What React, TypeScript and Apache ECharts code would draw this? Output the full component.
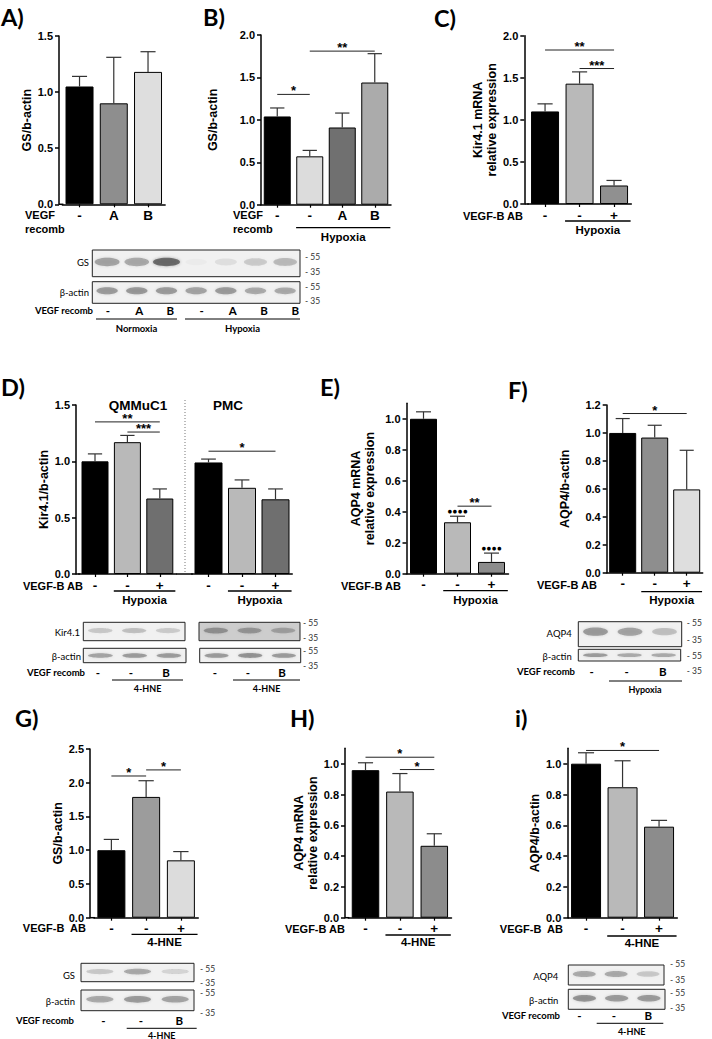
import { useEffect, useRef } from 'react';
import * as echarts from 'echarts';

// ---------------- DATA ----------------
const catsA = ['-', 'A', 'B'];
const meanA = [1.05, 0.9, 1.18];
const errA = [1.14, 1.31, 1.36];

const catsB = ['-', '-', 'A', 'B'];
const meanB = [1.04, 0.57, 0.91, 1.44];
const errB = [1.14, 0.64, 1.08, 1.78];
const sigB: any[] = [[0, 1, 1.3, '*'], [1, 3, 1.81, '**']];

const catsC = ['-', '-', '+'];
const meanC = [1.1, 1.43, 0.22];
const errC = [1.19, 1.57, 0.28];
const sigC: any[] = [[0, 2, 1.83, '**'], [1, 2, 1.61, '***']];

const catsD = ['-', '-', '+'];
const meanDQ = [1.0, 1.17, 0.67];
const errDQ = [1.066, 1.23, 0.755];
const sigDQ: any[] = [[0, 2, 1.35, '**'], [1, 2, 1.26, '***']];
const meanDP = [0.99, 0.765, 0.663];
const errDP = [1.02, 0.835, 0.755];
const sigDP: any[] = [[0, 2, 1.09, '*']];

const catsE = ['-', '-', '+'];
const meanE = [1.0, 0.332, 0.076];
const errE = [1.045, 0.371, 0.133];
const marksE = ['', '●●●●', '●●●●'];
const sigE: any[] = [[1, 2, 0.436, '**']];

const catsF = ['-', '-', '+'];
const meanF = [1.0, 0.967, 0.596];
const errF = [1.103, 1.055, 0.876];
const sigF: any[] = [[0, 2, 1.139, '*']];

const catsG = ['-', '-', '+'];
const meanG = [1.0, 1.79, 0.85];
const errG = [1.16, 2.03, 0.98];
const sigG: any[] = [[0, 1, 2.1, '*'], [1, 2, 2.19, '*']];

const catsH = ['-', '-', '+'];
const meanH = [0.958, 0.819, 0.467];
const errH = [1.006, 0.936, 0.545];
const sigH: any[] = [[0, 2, 1.042, '*'], [1, 2, 0.962, '*']];

const catsI = ['-', '-', '+'];
const meanI = [1.0, 0.847, 0.591];
const errI = [1.071, 1.019, 0.632];
const sigI: any[] = [[0, 2, 1.086, '*']];

// western blot band intensities (0..1) per lane
const bandGS_AB = [0.55, 0.5, 0.9, 0.04, 0.12, 0.28, 0.38];
const bandActin_AB = [0.6, 0.62, 0.6, 0.55, 0.6, 0.5, 0.5];
const bandKir_Q = [0.3, 0.35, 0.28];
const bandKir_P = [0.55, 0.5, 0.4];
const bandActin_DQ = [0.55, 0.6, 0.6];
const bandActin_DP = [0.6, 0.65, 0.6];
const bandAQP4_F = [0.6, 0.55, 0.35];
const bandActin_F = [0.6, 0.5, 0.5];
const bandGS_G = [0.3, 0.5, 0.22];
const bandActin_G = [0.5, 0.6, 0.55];
const bandAQP4_I = [0.5, 0.5, 0.3];
const bandActin_I = [0.65, 0.6, 0.6];
const lanesAB = ['-', 'A', 'B', '-', 'A', 'B', 'B'];
const lanes3 = ['-', '-', 'B'];

// ---------------- LAYOUT ----------------
const FONT = '"Liberation Sans", Arial, sans-serif';
const BFONT = 'Lato, "Open Sans", sans-serif';

const specs: any[] = [
  { cats: catsA, mean: meanA, err: errA, sig: [], max: 1.5, interval: 0.5, yName: 'GS/b-actin',
    X: 59, left: 62.4, w: 34.25, top: 36, h: 168.3, barW: 28, nameGap: 23, stub: 3.4,
    colors: ['#000000', '#8e8e8e', '#dedede'] },
  { cats: catsB, mean: meanB, err: errB, sig: sigB, max: 2.0, interval: 0.5, yName: 'GS/b-actin',
    X: 261, left: 261, w: 32.5, top: 35, h: 169.7, barW: 27, nameGap: 41, stub: 0,
    colors: ['#000000', '#dcdcdc', '#707070', '#ababab'], group: { from: 1, to: 3, text: 'Hypoxia' }, gdy: 23, gty: 32 },
  { cats: catsC, mean: meanC, err: errC, sig: sigC, max: 2.0, interval: 0.5, yName: 'Kir4.1 mRNA\nrelative expression',
    X: 524.3, left: 527.8, w: 34.5, top: 35.7, h: 168.3, barW: 28, nameGap: 22, stub: 3.5,
    colors: ['#000000', '#b9b9b9', '#909090'], group: { from: 1, to: 2, text: 'Hypoxia' }, gdy: 17, gty: 26 },
  { cats: catsD, mean: meanDQ, err: errDQ, sig: sigDQ, max: 1.5, interval: 0.5, yName: 'Kir4.1/b-actin',
    X: 76, left: 78.8, w: 32.4, top: 405, h: 169, barW: 27, nameGap: 24, stub: 2.8,
    colors: ['#000000', '#b9b9b9', '#6f6f6f'], group: { from: 1, to: 2, text: 'Hypoxia' }, gdy: 17, gty: 26 },
  { cats: catsD, mean: meanDP, err: errDP, sig: sigDP, max: 1.5, interval: 0.5, yName: '', hideY: true,
    X: 191.75, left: 191.75, w: 33.5, top: 405, h: 169, barW: 28, nameGap: 24, stub: 15.75,
    colors: ['#000000', '#b9b9b9', '#6f6f6f'], group: { from: 1, to: 2, text: 'Hypoxia' }, gdy: 17, gty: 26 },
  { cats: catsE, mean: meanE, err: errE, marks: marksE, sig: sigE, max: 1.1, interval: 0.2, yName: 'AQP4 mRNA\nrelative expression',
    X: 406.5, left: 406.5, w: 34, top: 403.3, h: 170.4, barW: 27, nameGap: 30, stub: 0,
    colors: ['#000000', '#b9b9b9', '#8c8c8c'], group: { from: 1, to: 2, text: 'Hypoxia' }, gdy: 17, gty: 26 },
  { cats: catsF, mean: meanF, err: errF, sig: sigF, max: 1.2, interval: 0.2, yName: 'AQP4/b-actin',
    X: 606.7, left: 606.7, w: 32, top: 405, h: 167.7, barW: 27, nameGap: 35, stub: 0,
    colors: ['#000000', '#8e8e8e', '#dedede'], group: { from: 1, to: 2, text: 'Hypoxia' }, gdy: 19, gty: 27 },
  { cats: catsG, mean: meanG, err: errG, sig: sigG, max: 2.5, interval: 0.5, yName: 'GS/b-actin',
    X: 90, left: 94, w: 34.75, top: 749, h: 168.7, barW: 28, nameGap: 16, stub: 4,
    colors: ['#000000', '#9c9c9c', '#dcdcdc'], group: { from: 1, to: 2, text: '4-HNE' }, gdy: 16.6, gty: 24 },
  { cats: catsH, mean: meanH, err: errH, sig: sigH, max: 1.1, interval: 0.2, yName: 'AQP4 mRNA\nrelative expression',
    X: 345, left: 348.3, w: 34.4, top: 748.3, h: 169.4, barW: 27.5, nameGap: 23, stub: 3.3,
    colors: ['#000000', '#b9b9b9', '#8c8c8c'], group: { from: 1, to: 2, text: '4-HNE' }, gdy: 17.3, gty: 24.5 },
  { cats: catsI, mean: meanI, err: errI, sig: sigI, max: 1.1, interval: 0.2, yName: 'AQP4/b-actin',
    X: 567.3, left: 567.8, w: 36.5, top: 748.3, h: 169.4, barW: 30, nameGap: 24, stub: 0.5,
    colors: ['#000000', '#b9b9b9', '#8c8c8c'], group: { from: 1, to: 2, text: '4-HNE' }, gdy: 18.3, gty: 25.6 },
];

// ---------------- HELPERS ----------------
function txt(text: string, x: number, y: number, size: number, o: any = {}) {
  return {
    type: 'text', x, y, silent: true,
    style: {
      text, font: `${o.weight ?? 'bold'} ${size}px ${o.family ?? FONT}`, fill: o.fill ?? '#000',
      textAlign: o.align ?? 'left', textVerticalAlign: 'middle',
    },
  };
}
function ln(x1: number, y1: number, x2: number, y2: number, w = 1, o: any = {}) {
  return {
    type: 'line', silent: true, shape: { x1, y1, x2, y2 },
    style: { stroke: o.color ?? '#000', lineWidth: w, lineDash: o.dash },
  };
}
function blot(x: number, y: number, w: number, h: number, bands: number[], o: any = {}) {
  const n = bands.length;
  const lw = w / n;
  const els: any[] = [
    { type: 'rect', silent: true, shape: { x, y, width: w, height: h }, style: { fill: o.bg ?? '#f1f1f1', stroke: '#222', lineWidth: 1 } },
  ];
  bands.forEach((b, i) => {
    if (b <= 0) return;
    const cx = x + lw * (i + 0.5);
    const a = b * 0.62;
    els.push({
      type: 'ellipse', silent: true,
      shape: { cx, cy: y + h * (o.pos ?? 0.5), rx: lw * 0.36 * (1 + (o.grow ?? 0) * b), ry: Math.min(h * 0.12 * (1 + b * 0.6), 4.2) },
      style: { fill: `rgba(40,40,40,${a})`, shadowBlur: 3, shadowColor: `rgba(40,40,40,${a})` },
    });
  });
  return els;
}
function markers(x: number, ys: number[], labels: string[]) {
  return ys.map((y, i) => txt('- ' + labels[i], x, y, 8.5, { weight: 'normal', family: BFONT, fill: '#333' }));
}

// ---------------- OPTION ----------------
function buildOption() {
  const grid: any[] = [];
  const xAxis: any[] = [];
  const yAxis: any[] = [];
  const series: any[] = [];

  specs.forEach((s, gi) => {
    const tickVals: number[] = [];
    for (let v = 0; v <= s.max + 1e-9; v += s.interval) tickVals.push(Math.round(v * 100) / 100);
    grid.push({ left: s.left, top: s.top, width: s.w * s.cats.length, height: s.h, containLabel: false, outerBoundsMode: 'none' });
    xAxis.push({
      type: 'category', gridIndex: gi, data: s.cats,
      axisLine: { show: true, onZero: false, lineStyle: { color: '#000', width: 1.5 } },
      axisTick: { show: true, alignWithLabel: true, length: 3, lineStyle: { color: '#000', width: 1.2 } },
      axisLabel: { show: true, interval: 0, margin: 4, fontSize: 13.5, fontWeight: 'bold', color: '#000', fontFamily: FONT },
      splitLine: { show: false },
    });
    yAxis.push({
      type: 'value', gridIndex: gi, show: !s.hideY, min: 0, max: s.max, interval: s.interval,
      offset: s.left - s.X,
      axisLine: { show: true, lineStyle: { color: '#000', width: 1.5 } },
      axisTick: { show: true, length: 4, customValues: tickVals, lineStyle: { color: '#000', width: 1.5 } },
      axisLabel: {
        margin: 6, fontSize: 11, fontWeight: 'bold', color: '#000', fontFamily: FONT, customValues: tickVals,
        formatter: (v: number) => {
          const k = v / s.interval;
          return Math.abs(k - Math.round(k)) < 1e-6 ? v.toFixed(1) : '';
        },
      },
      splitLine: { show: false },
      name: s.yName, nameLocation: 'middle', nameGap: s.nameGap,
      nameTextStyle: { fontSize: 12.5, fontWeight: 'bold', color: '#000', fontFamily: FONT, lineHeight: 14 },
    });
    series.push({
      type: 'bar', xAxisIndex: gi, yAxisIndex: gi, barWidth: s.barW, silent: true, z: 2,
      itemStyle: { borderColor: '#000', borderWidth: 1 },
      data: s.mean.map((v: number, i: number) => ({ value: v, itemStyle: { color: s.colors[i] } })),
    });
    // error bars (upper SEM)
    series.push({
      type: 'custom', xAxisIndex: gi, yAxisIndex: gi, silent: true, z: 3,
      data: s.mean.map((v: number, i: number) => [i, v, s.err[i]]),
      renderItem: (p: any, api: any) => {
        const i = api.value(0);
        const top = api.coord([i, api.value(2)]);
        const base = api.coord([i, api.value(1)]);
        const hw = api.size([1, 0])[0] * 0.22;
        const ch: any[] = [
          { type: 'line', shape: { x1: top[0], y1: base[1], x2: top[0], y2: top[1] }, style: { stroke: '#333', lineWidth: 1.2 } },
          { type: 'line', shape: { x1: top[0] - hw, y1: top[1], x2: top[0] + hw, y2: top[1] }, style: { stroke: '#333', lineWidth: 1.2 } },
        ];
        const mk = s.marks ? s.marks[p.dataIndex] : '';
        if (mk) {
          ch.push({ type: 'text', x: top[0], y: top[1] - 0.5, style: { text: mk, font: `bold 8.5px ${FONT}`, fill: '#000', textAlign: 'center', textVerticalAlign: 'bottom' } });
        }
        return { type: 'group', children: ch };
      },
    });
    // significance brackets
    if (s.sig.length) {
      series.push({
        type: 'custom', xAxisIndex: gi, yAxisIndex: gi, silent: true, z: 4,
        data: s.sig.map((g: any[]) => [g[0], g[2], g[1]]),
        renderItem: (p: any, api: any) => {
          const a = api.coord([api.value(0), api.value(1)]);
          const b = api.coord([api.value(2), api.value(1)]);
          const label = s.sig[p.dataIndex][3];
          return {
            type: 'group', children: [
              { type: 'line', shape: { x1: a[0], y1: a[1], x2: b[0], y2: b[1] }, style: { stroke: '#222', lineWidth: 1 } },
              { type: 'text', x: (a[0] + b[0]) / 2, y: a[1] - 3.5, style: { text: label, font: `bold 13px ${FONT}`, fill: '#000', textAlign: 'center', textVerticalAlign: 'middle' } },
            ],
          };
        },
      });
    }
    // axis corner stub + group (Hypoxia / 4-HNE) underline
    series.push({
      type: 'custom', xAxisIndex: gi, yAxisIndex: gi, silent: true, z: 4,
      data: [[0, 0]],
      renderItem: (p: any, api: any) => {
        const a = api.coord([0, 0]);
        const band = api.size([1, 0])[0];
        const x0 = a[0] - band / 2;
        const ch: any[] = [];
        if (s.stub > 0) ch.push({ type: 'line', shape: { x1: x0 - s.stub, y1: a[1], x2: x0 + 1, y2: a[1] }, style: { stroke: '#000', lineWidth: 1.5 } });
        if (s.group) {
          const g1 = api.coord([s.group.from, 0]);
          const g2 = api.coord([s.group.to, 0]);
          const x1 = g1[0] - band * 0.42;
          const x2 = g2[0] + band * 0.48;
          ch.push({ type: 'line', shape: { x1, y1: a[1] + s.gdy, x2, y2: a[1] + s.gdy }, style: { stroke: '#000', lineWidth: 1.3 } });
          ch.push({ type: 'text', x: (x1 + x2) / 2, y: a[1] + s.gty, style: { text: s.group.text, font: `bold 11.5px ${FONT}`, fill: '#000', textAlign: 'center', textVerticalAlign: 'middle' } });
        }
        return { type: 'group', children: ch };
      },
    });
  });

  const g: any[] = [];
  // panel letters
  const letters: any[] = [['A)', 1, 17], ['B)', 203, 17], ['C)', 434, 18], ['D)', 1, 387], ['E)', 320, 387], ['F)', 508, 390], ['G)', 15, 718], ['H)', 290, 718], ['i)', 515, 718]];
  letters.forEach(([t, x, y]) => g.push(txt(t, x, y, 23.5, { family: BFONT })));

  // row labels
  g.push(txt('VEGF', 25, 215, 11), txt('recomb', 25, 229, 11));
  g.push(txt('VEGF', 233, 215, 11), txt('recomb', 233, 229, 11));
  g.push(txt('VEGF-B AB', 523, 216, 11, { align: 'right' }));
  g.push(txt('VEGF-B AB', 83, 585.5, 11, { align: 'right' }));
  g.push(txt('VEGF-B AB', 401, 586, 11, { align: 'right' }));
  g.push(txt('VEGF-B AB', 597, 585, 11, { align: 'right' }));
  g.push(txt('VEGF-B  AB', 86, 928, 11, { align: 'right' }));
  g.push(txt('VEGF-B AB', 345, 929, 11, { align: 'right' }));
  g.push(txt('VEGF-B  AB', 563, 929, 11, { align: 'right' }));

  // D titles and separator
  g.push(txt('QMMuC1', 138, 405, 13.5, { align: 'center' }));
  g.push(txt('PMC', 228, 405, 13.5, { align: 'center' }));
  g.push(ln(185, 400, 185, 574, 1, { color: '#777', dash: [1, 2] }));

  // ---- blot A/B ----
  g.push(...blot(92.3, 250, 207.7, 26.7, bandGS_AB, { pos: 0.45, grow: 0.3 }));
  g.push(...blot(92.3, 281.7, 207.7, 21.6, bandActin_AB, { pos: 0.42 }));
  g.push(txt('GS', 89, 262, 9.5, { weight: 'normal', family: BFONT, align: 'right' }));
  g.push(txt('β-actin', 89, 292, 9.5, { weight: 'normal', family: BFONT, align: 'right' }));
  g.push(...markers(305, [256.7, 271.7, 286.7, 301], ['55', '35', '55', '35']));
  g.push(txt('VEGF recomb', 93, 310, 9.5, { family: BFONT, align: 'right' }));
  lanesAB.forEach((l, i) => g.push(txt(l, 108 + i * 31.2, 310, 11.5, { family: BFONT, align: 'center' })));
  g.push(ln(96, 319, 177, 319, 1), ln(185, 319, 300, 319, 1));
  g.push(txt('Normoxia', 136.5, 328, 9.5, { family: BFONT, align: 'center' }));
  g.push(txt('Hypoxia', 242.5, 328, 9.5, { family: BFONT, align: 'center' }));

  // ---- blot D ----
  g.push(...blot(83.3, 622.3, 101.7, 18.4, bandKir_Q, { pos: 0.45 }));
  g.push(...blot(199, 622.3, 101, 18.4, bandKir_P, { pos: 0.45, bg: '#cdcdcd' }));
  g.push(...blot(83.3, 648.3, 102.7, 14.4, bandActin_DQ, { pos: 0.5 }));
  g.push(...blot(199.7, 648.3, 101, 14.4, bandActin_DP, { pos: 0.5 }));
  g.push(txt('Kir4.1', 80, 632.7, 9.5, { weight: 'normal', family: BFONT, align: 'right' }));
  g.push(txt('β-actin', 81, 656, 9.5, { weight: 'normal', family: BFONT, align: 'right' }));
  g.push(...markers(303, [623.3, 638.3, 651, 666], ['55', '35', '55', '35']));
  g.push(txt('VEGF recomb', 85, 672, 9.5, { family: BFONT, align: 'right' }));
  [98, 131, 166].forEach((x, i) => g.push(txt(lanes3[i], x, 672, 11.5, { family: BFONT, align: 'center' })));
  [215, 248, 282].forEach((x, i) => g.push(txt(lanes3[i], x, 672, 11.5, { family: BFONT, align: 'center' })));
  g.push(ln(112, 680, 183, 680, 1), ln(233, 680, 300, 680, 1));
  g.push(txt('4-HNE', 147.5, 688, 9, { family: BFONT, align: 'center' }));
  g.push(txt('4-HNE', 266.5, 688, 9, { family: BFONT, align: 'center' }));

  // ---- blot F ----
  g.push(...blot(578.3, 621.7, 103.4, 25, bandAQP4_F, { pos: 0.4 }));
  g.push(...blot(578.3, 649.3, 102.4, 11.7, bandActin_F, { pos: 0.5 }));
  g.push(txt('AQP4', 571.7, 633.3, 9.5, { weight: 'normal', family: BFONT, align: 'right' }));
  g.push(txt('β-actin', 571.7, 656, 9.5, { weight: 'normal', family: BFONT, align: 'right' }));
  g.push(...markers(686.7, [622.7, 640, 656, 671], ['55', '35', '55', '35']));
  g.push(txt('VEGF recomb', 575, 671, 9.5, { family: BFONT, align: 'right' }));
  [591.7, 626.7, 662.7].forEach((x, i) => g.push(txt(lanes3[i], x, 671, 11.5, { family: BFONT, align: 'center' })));
  g.push(ln(609, 681, 682, 681, 1));
  g.push(txt('Hypoxia', 645, 689, 9, { family: BFONT, align: 'center' }));

  // ---- blot G ----
  g.push(...blot(81, 963.3, 113, 18.4, bandGS_G, { pos: 0.45 }));
  g.push(...blot(81, 990, 113, 20.7, bandActin_G, { pos: 0.45 }));
  g.push(txt('GS', 75, 975, 9.5, { weight: 'normal', family: BFONT, align: 'right' }));
  g.push(txt('β-actin', 75, 1001.7, 9.5, { weight: 'normal', family: BFONT, align: 'right' }));
  g.push(...markers(200, [969.3, 983.3, 993.3, 1012.7], ['55', '35', '55', '35']));
  g.push(txt('VEGF recomb', 74, 1020, 9.5, { family: BFONT, align: 'right' }));
  [103.3, 141, 179.3].forEach((x, i) => g.push(txt(lanes3[i], x, 1020, 11.5, { family: BFONT, align: 'center' })));
  g.push(ln(126.7, 1028.3, 196.7, 1028.3, 1));
  g.push(txt('4-HNE', 161.7, 1035, 9, { family: BFONT, align: 'center' }));

  // ---- blot i ----
  g.push(...blot(568.3, 965, 95.7, 20, bandAQP4_I, { pos: 0.45 }));
  g.push(...blot(568.3, 989.3, 96.7, 20, bandActin_I, { pos: 0.45 }));
  g.push(txt('AQP4', 558.3, 976.7, 9.5, { weight: 'normal', family: BFONT, align: 'right' }));
  g.push(txt('β-actin', 558.3, 1000, 9.5, { weight: 'normal', family: BFONT, align: 'right' }));
  g.push(...markers(670, [964, 980, 992.7, 1008.3], ['55', '35', '55', '35']));
  g.push(txt('VEGF recomb', 560, 1015, 9.5, { family: BFONT, align: 'right' }));
  [579.3, 614, 648.3].forEach((x, i) => g.push(txt(lanes3[i], x, 1015, 11.5, { family: BFONT, align: 'center' })));
  g.push(ln(596.7, 1023.3, 663.3, 1023.3, 1));
  g.push(txt('4-HNE', 631.7, 1031, 9, { family: BFONT, align: 'center' }));

  return {
    animation: false,
    backgroundColor: '#ffffff',
    grid, xAxis, yAxis, series,
    graphic: { elements: g },
  };
}

export default function App() {
  const ref = useRef<HTMLDivElement>(null);
  useEffect(() => {
    if (!ref.current) return;
    const chart = echarts.init(ref.current, undefined, { renderer: 'svg' });
    chart.setOption(buildOption() as any);
    return () => chart.dispose();
  }, []);
  return (
    <div
      ref={ref}
      style={{ position: 'absolute', left: 0, top: 0, width: 712, height: 1039, background: '#fff' }}
    />
  );
}
